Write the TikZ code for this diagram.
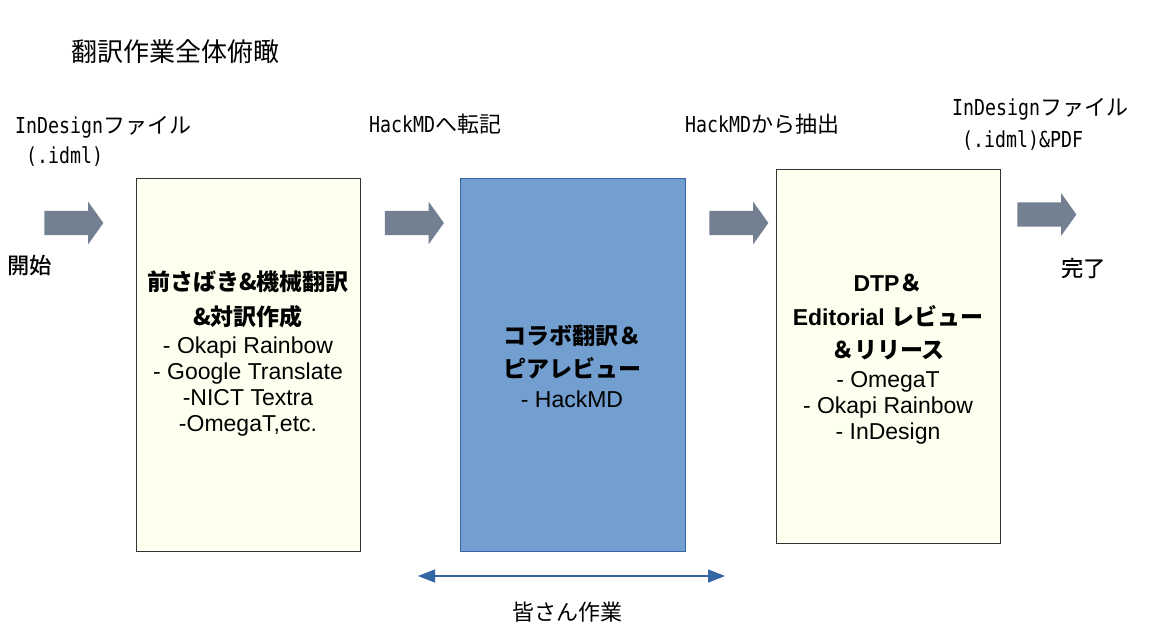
\documentclass[tikz,border=0pt]{standalone}
\usepackage{fontspec}
\setmainfont{Liberation Sans}
\newfontfamily\jp{Noto Sans CJK JP}
\newfontfamily\jpmed[FakeBold=0.7]{Noto Sans CJK JP}
\newfontfamily\lbl[FakeStretch=0.83]{DejaVu Sans Mono}
\usetikzlibrary{shapes.arrows,arrows.meta}
\definecolor{arrowgray}{RGB}{114,128,145}
\definecolor{ivory}{RGB}{255,255,240}
\definecolor{boxblue}{RGB}{114,159,207}
\definecolor{edgeblue}{RGB}{52,101,164}
\newcommand\lt[1]{{\lbl #1}}
\tikzset{
  blockarrow/.style={single arrow, fill=arrowgray, draw=none, minimum height=59pt,
    single arrow head extend=9pt, single arrow tip angle=109, inner sep=0pt, anchor=center},
  procbox/.style={draw=black!80, line width=0.8pt, fill=ivory, anchor=north west, inner sep=0pt},
  bluebox/.style={draw=edgeblue, line width=0.8pt, fill=boxblue, anchor=north west, inner sep=0pt},
  lab/.style={anchor=west, inner sep=0pt, font=\fontsize{22}{30}\selectfont\jp},
  boxtxt/.style={align=center, inner sep=0pt, font=\fontsize{23}{26}\selectfont},
}
\newcommand\shaft{\rule{0pt}{24pt}}
\begin{document}
\begin{tikzpicture}[x=1pt,y=-1pt]
\useasboundingbox (0,0) rectangle (1155,642);
% title
\node[lab, font=\fontsize{26}{30}\selectfont\jp] (title) at (71,52) {翻訳作業全体俯瞰};
% labels
\node[lab] (in1) at (15,127) {\lt{InDesign}ファイル};
\node[lab] (in2) at (26,157) {\lt{(.idml)}};
\node[lab] (hmd1) at (369,124) {\lt{HackMD}へ転記};
\node[lab] (hmd2) at (685,124) {\lt{HackMD}から抽出};
\node[lab] (out1) at (952,109) {\lt{InDesign}ファイル};
\node[lab] (out2) at (962,141) {\lt{(.idml)\&PDF}};
\node[lab, font=\fontsize{22}{30}\selectfont\jpmed] (start) at (7,265) {開始};
\node[lab, font=\fontsize{22}{30}\selectfont\jpmed] (done) at (1061,268) {完了};
\node[lab] (all) at (512,612) {皆さん作業};
% arrows
\node[blockarrow] (a1) at (69.5,223) {\shaft};
\node[blockarrow] (a2) at (410,223) {\shaft};
\node[blockarrow] (a3) at (734.5,223) {\shaft};
\node[blockarrow] (a4) at (1042.5,214.5) {\shaft};
% boxes
\node[procbox, minimum width=224pt, minimum height=373pt] (b1) at (136,178) {};
\node[bluebox, minimum width=225pt, minimum height=373pt] (b2) at (460,178) {};
\node[procbox, minimum width=224pt, minimum height=374pt] (b3) at (776,169) {};
% box texts
\node[boxtxt] (t1) at (248,354) {{\jp\bfseries 前さばき\&機械翻訳}\\[9pt]{\jp\bfseries \&対訳作成}\\[2pt]
- Okapi Rainbow\\- Google Translate\\-NICT Textra\\-OmegaT,etc.};
\node[boxtxt] (t2) at (572,366.5) {{\jp\bfseries コラボ翻訳＆}\\[7pt]{\jp\bfseries ピアレビュー}\\[4pt]- HackMD};
\node[boxtxt] (t3) at (888,359.5) {{\bfseries DTP}{\jp\bfseries ＆}\\[8pt]{\bfseries Editorial }{\jp\bfseries レビュー}\\[7pt]{\jp\bfseries ＆リリース}\\[3pt]
- OmegaT\\- Okapi Rainbow\\- InDesign};
% double arrow
\coordinate (dl) at (418,576);
\coordinate (dr) at (725,576);
\draw[edgeblue, line width=1.3pt, {Triangle[length=17pt,width=13pt]}-{Triangle[length=17pt,width=13pt]}] (dl) -- (dr);
\end{tikzpicture}
\end{document}
